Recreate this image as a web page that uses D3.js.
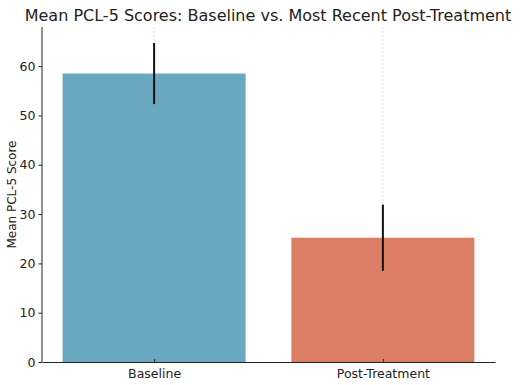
<!DOCTYPE html>
<html>
<head>
<meta charset="utf-8">
<script src="https://cdn.jsdelivr.net/npm/d3@7"></script>
<style>
  body { margin: 0; background: #fff; }
  svg text { font-family: "DejaVu Sans", sans-serif; fill: #222; }
</style>
</head>
<body>
<div id="chart"></div>
<script>
// chart data
const categories = ['Baseline', 'Post-Treatment'];
const means = [58.5, 25.2];
const errors = [6.2, 6.7];
const barColors = ['#6aa7c1', '#dc7e66'];
const yTicks = [0, 10, 20, 30, 40, 50, 60];

const width = 524;
const height = 385;
const margin = { top: 27, right: 29, bottom: 23, left: 42 };
const innerW = width - margin.left - margin.right;
const innerH = height - margin.top - margin.bottom;

const svg = d3.select('#chart')
  .append('svg')
  .attr('width', width)
  .attr('height', height);

// title
svg.append('text')
  .attr('x', 268)
  .attr('y', 21)
  .attr('text-anchor', 'middle')
  .style('font-size', '16px')
  .text('Mean PCL-5 Scores: Baseline vs. Most Recent Post-Treatment');

const g = svg.append('g')
  .attr('transform', `translate(${margin.left},${margin.top})`);

// matplotlib-like continuous x: bars at 0 and 1, width 0.8
const x = d3.scaleLinear()
  .domain([-0.49, categories.length - 1 + 0.49])
  .range([0, innerW]);

const yMax = d3.max(means.map((m, i) => m + errors[i])) * 1.05;
const y = d3.scaleLinear()
  .domain([0, yMax])
  .range([innerH, 0]);

// vertical grid lines at category ticks
g.append('g')
  .selectAll('line')
  .data(categories)
  .enter().append('line')
  .attr('x1', (d, i) => x(i))
  .attr('x2', (d, i) => x(i))
  .attr('y1', 0)
  .attr('y2', innerH)
  .attr('stroke', '#d8d8d8')
  .attr('stroke-width', 0.8)
  .attr('stroke-dasharray', '2,2');

// bars
g.append('g')
  .selectAll('rect')
  .data(means)
  .enter().append('rect')
  .attr('x', (d, i) => x(i - 0.4))
  .attr('width', (d, i) => x(i + 0.4) - x(i - 0.4))
  .attr('y', d => y(d))
  .attr('height', d => innerH - y(d))
  .attr('fill', (d, i) => barColors[i]);

// error bars
g.append('g')
  .selectAll('line')
  .data(means)
  .enter().append('line')
  .attr('x1', (d, i) => x(i))
  .attr('x2', (d, i) => x(i))
  .attr('y1', (d, i) => y(d + errors[i]))
  .attr('y2', (d, i) => y(d - errors[i]))
  .attr('stroke', '#111')
  .attr('stroke-width', 2);

// y axis
const yAxis = g.append('g')
  .call(d3.axisLeft(y).tickValues(yTicks).tickSize(3.5).tickPadding(3));
yAxis.select('.domain').attr('d', `M0,${innerH}V0`).attr('stroke', '#222');
yAxis.selectAll('text').style('font-size', '12.5px');
yAxis.selectAll('line').attr('stroke', '#222');

// x axis with inward ticks
const xAxis = g.append('g')
  .attr('transform', `translate(0,${innerH})`)
  .call(d3.axisBottom(x)
    .tickValues(categories.map((c, i) => i))
    .tickFormat(i => categories[i])
    .tickSizeInner(-3)
    .tickSizeOuter(0)
    .tickPadding(7));
xAxis.select('.domain').attr('stroke', '#222');
xAxis.selectAll('line').attr('stroke', '#333');
xAxis.selectAll('text').style('font-size', '12.5px');

// y label
svg.append('text')
  .attr('transform', `translate(16,${margin.top + innerH / 2}) rotate(-90)`)
  .attr('text-anchor', 'middle')
  .style('font-size', '12px')
  .text('Mean PCL-5 Score');
</script>
</body>
</html>
